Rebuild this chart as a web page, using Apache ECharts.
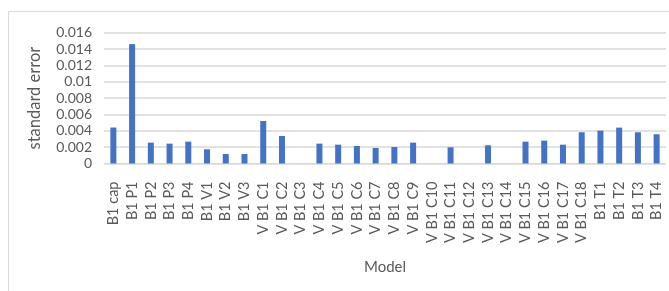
<!DOCTYPE html>
<html>
<head>
<meta charset="utf-8">
<script src="https://cdn.jsdelivr.net/npm/echarts@6/dist/echarts.min.js"></script>
<style>
  html, body { margin: 0; padding: 0; background: #fff; }
  #main { width: 669px; height: 291px; }
</style>
</head>
<body>
<div id="main"></div>
<script>
const categories = [
  'B1 cap', 'B1 P1', 'B1 P2', 'B1 P3', 'B1 P4', 'B1 V1', 'B1 V2', 'B1 V3',
  'V B1 C1', 'V B1 C2', 'V B1 C3', 'V B1 C4', 'V B1 C5', 'V B1 C6', 'V B1 C7',
  'V B1 C8', 'V B1 C9', 'V B1 C10', 'V B1 C11', 'V B1 C12', 'V B1 C13',
  'V B1 C14', 'V B1 C15', 'V B1 C16', 'V B1 C17', 'V B1 C18',
  'B1 T1', 'B1 T2', 'B1 T3', 'B1 T4'
];
const stdError = [
  0.0044, 0.0146, 0.00255, 0.00243, 0.00267, 0.00174, 0.00116, 0.00116,
  0.0052, 0.00337, 0, 0.00243, 0.0023, 0.00214, 0.0019,
  0.00202, 0.00255, 0, 0.00198, 0, 0.00223,
  0, 0.00267, 0.0028, 0.0023, 0.00382,
  0.00402, 0.00439, 0.00382, 0.00358
];

const font = 'Lato, "Liberation Sans", sans-serif';
const textColor = '#595959';

const chart = echarts.init(document.getElementById('main'));
chart.setOption({
  backgroundColor: '#ffffff',
  animation: false,
  graphic: [
    {
      type: 'rect',
      shape: { x: 8.5, y: 11.5, width: 680, height: 300 },
      style: { fill: 'none', stroke: '#d9d9d9', lineWidth: 1 },
      silent: true
    }
  ],
  grid: { left: 104, right: 3, top: 32.7, bottom: 127.5 },
  xAxis: {
    type: 'category',
    data: categories,
    name: 'Model',
    nameLocation: 'middle',
    nameGap: 96,
    nameTextStyle: { color: textColor, fontSize: 15, fontFamily: font },
    axisLine: { lineStyle: { color: '#d9d9d9' } },
    axisTick: { show: false },
    axisLabel: {
      interval: 0,
      rotate: 90,
      margin: 18,
      color: textColor,
      fontSize: 14.5,
      fontFamily: font
    }
  },
  yAxis: {
    type: 'value',
    min: 0,
    max: 0.016,
    interval: 0.002,
    name: 'standard error',
    nameLocation: 'middle',
    nameGap: 61,
    nameTextStyle: { color: textColor, fontSize: 16.5, fontFamily: font },
    axisLine: { show: false },
    axisTick: { show: false },
    axisLabel: { color: textColor, fontSize: 14, fontFamily: font, margin: 12 },
    splitLine: { lineStyle: { color: '#d9d9d9', width: 1.5 } }
  },
  series: [
    {
      type: 'bar',
      data: stdError,
      barWidth: 6,
      itemStyle: { color: '#4472C4' }
    }
  ]
});
</script>
</body>
</html>
